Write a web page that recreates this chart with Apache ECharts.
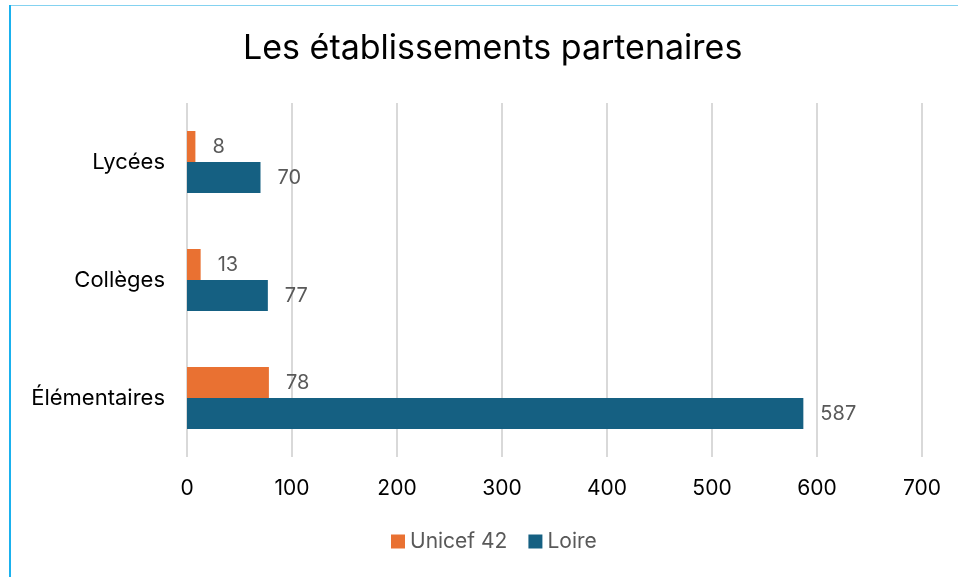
<!DOCTYPE html>
<html>
<head>
<meta charset="utf-8">
<title>Les établissements partenaires</title>
<script src="https://cdn.jsdelivr.net/npm/echarts@6/dist/echarts.min.js"></script>
<style>
  html, body { margin: 0; padding: 0; background: #fff; }
  #main { width: 958px; height: 577px; }
</style>
</head>
<body>
<div id="main"></div>
<script>
// données
var categories = ['Élémentaires', 'Collèges', 'Lycées'];
var unicef42 = [78, 13, 8];
var loire = [587, 77, 70];
var xTicks = [0, 700, 100]; // min, max, interval

var FONT = 'Inter, "Noto Sans", sans-serif';
var ORANGE = '#E97132';
var BLUE = '#156082';

var myChart = echarts.init(document.getElementById('main'));
myChart.setOption({
  animation: false,
  title: {
    text: 'Les établissements partenaires',
    left: 238,
    top: 27,
    textStyle: {
      color: '#000',
      fontSize: 34,
      fontWeight: 'normal',
      fontFamily: FONT
    }
  },
  legend: {
    data: ['Unicef 42', 'Loire'],
    top: 526,
    left: 386,
    itemWidth: 14,
    itemHeight: 14,
    itemGap: 21,
    icon: 'rect',
    textStyle: {
      color: '#595959',
      fontSize: 21,
      fontFamily: FONT
    }
  },
  grid: {
    left: 187,
    right: 36,
    top: 103,
    bottom: 120,
    containLabel: false
  },
  xAxis: {
    type: 'value',
    min: xTicks[0],
    max: xTicks[1],
    interval: xTicks[2],
    axisLine: { show: false },
    axisTick: { show: false },
    splitLine: { lineStyle: { color: '#D9D9D9', width: 2 } },
    axisLabel: {
      margin: 21,
      color: '#000',
      fontSize: 21,
      fontFamily: FONT
    }
  },
  yAxis: {
    type: 'category',
    data: categories,
    axisLine: { show: false },
    axisTick: { show: false },
    axisLabel: {
      margin: 22,
      color: '#000',
      fontSize: 22,
      fontFamily: FONT
    }
  },
  series: [
    {
      name: 'Unicef 42',
      type: 'bar',
      data: unicef42,
      barWidth: 31,
      barGap: '0%',
      itemStyle: { color: ORANGE },
      label: {
        show: true,
        position: 'right',
        distance: 17,
        color: '#595959',
        fontSize: 20,
        fontFamily: FONT
      }
    },
    {
      name: 'Loire',
      type: 'bar',
      data: loire,
      barWidth: 31,
      barGap: '0%',
      itemStyle: { color: BLUE },
      label: {
        show: true,
        position: 'right',
        distance: 17,
        color: '#595959',
        fontSize: 20,
        fontFamily: FONT
      }
    }
  ],
  graphic: [
    // cadre du graphique
    { type: 'rect', shape: { x: 10, y: 5, width: 960, height: 1 }, style: { fill: '#84D2F0' }, silent: true },
    { type: 'rect', shape: { x: 9, y: 5, width: 2, height: 580 }, style: { fill: '#1AB1EE' }, silent: true }
  ]
});
</script>
</body>
</html>
